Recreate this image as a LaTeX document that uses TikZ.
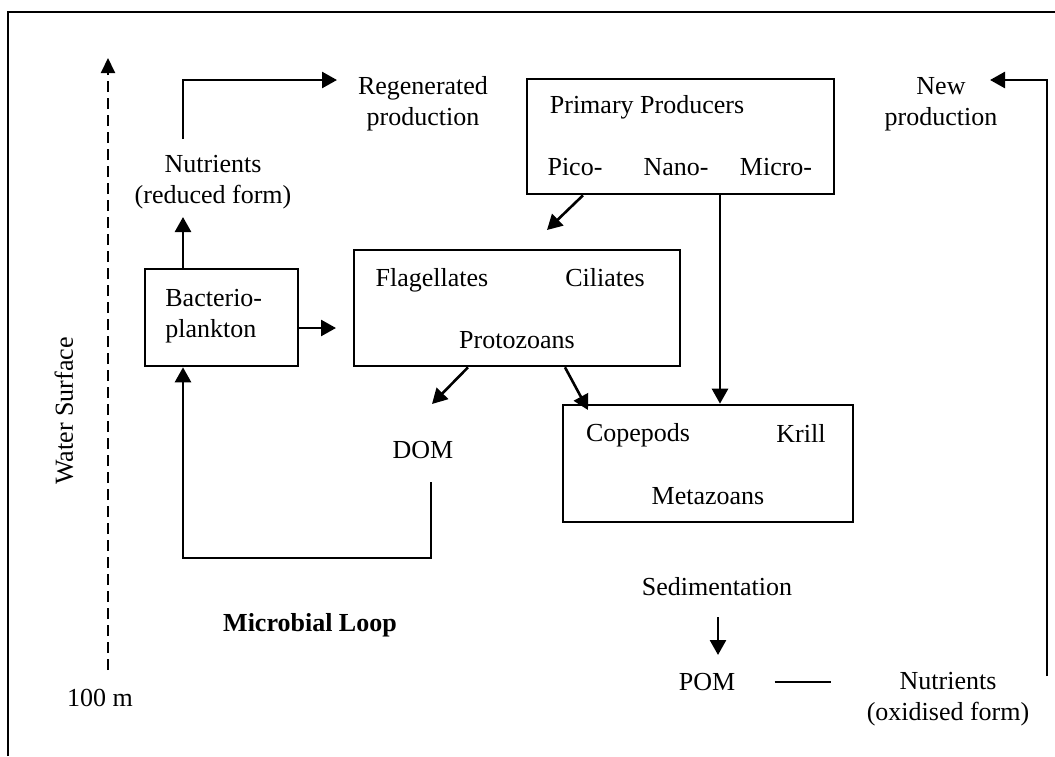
\documentclass[tikz,border=0pt]{standalone}
\usepackage{fontspec}
\setmainfont{Liberation Serif}
\usepackage{tikz}
\usetikzlibrary{arrows.meta}
\tikzstyle{box}=[draw,rectangle,line width=1.3pt,inner sep=0pt]
\tikzstyle{txt}=[inner sep=0pt,align=center]
\tikzstyle{lin}=[line width=1.3pt]
\tikzstyle{arr}=[lin,-{Triangle[length=7.5pt,width=8pt]}]
\tikzstyle{dline}=[line width=1pt,dash pattern=on 5.5pt off 3pt,-{Triangle[length=7.5pt,width=7pt]}]

\begin{document}
\begin{tikzpicture}[x=0.5pt,y=-0.5pt,font=\fontsize{13}{15.5}\selectfont]
\useasboundingbox (0,0) rectangle (1055,756);
\draw[lin] (8,756) |- (1055,12);
% the four boxes
\foreach \place/\name/\w/\h in {{(221.5,317.5)/bact/76.5pt/48.5pt}, {(517,308)/proto/163pt/58pt},
  {(680.5,136.5)/prim/153.5pt/57.5pt}, {(708,463.5)/meta/145pt/58.5pt}}
    \node[box,minimum width=\w,minimum height=\h] (\name) at \place {};
% labels
\foreach \place/\name/\lbl in {{(423,104)/regen/Regenerated\\production}, {(213,182)/nutr/Nutrients\\(reduced form)},
  {(941,104)/newp/New\\production}, {(647,107)/pp/Primary Producers},
  {(575,167)/pico/Pico-}, {(676,167)/nano/Nano-}, {(776,167)/micro/Micro-},
  {(432,280)/flag/Flagellates}, {(605,278)/cil/Ciliates}, {(517,340)/protz/Protozoans},
  {(423,450)/dom/DOM}, {(638,435)/cope/Copepods}, {(801,433)/krill/Krill}, {(708,496)/metaz/Metazoans},
  {(717,587)/sed/Sedimentation}, {(707,682)/pom/POM}, {(948,699)/nutox/Nutrients\\(oxidised form)},
  {(100,698)/hm/100 m}, {(310,625)/loop/\textbf{Microbial Loop}}}
    \node[txt] (\name) at \place {\lbl};
\node[txt,align=left,anchor=west] (bacl) at (165,316) {Bacterio-\\plankton};
\node[txt,rotate=90] (ws) at (64,411) {Water Surface};
% connector ends
\coordinate (n1) at (183,139);
\coordinate (n2) at (183,217);
\coordinate (r1) at (337,80);
\coordinate (b2) at (336,328);
\coordinate (p1) at (583,194);
\coordinate (p2) at (547,230);
\coordinate (m1) at (720,300);
\coordinate (q1) at (468,366);
\coordinate (q2) at (432,404);
\coordinate (q3) at (565,366);
\coordinate (q4) at (588,410);
\coordinate (d1) at (431,482);
\coordinate (l1) at (183,558);
\coordinate (s1) at (718,617);
\coordinate (s2) at (718,655);
\coordinate (w1) at (1047,676);
\coordinate (w2) at (990,80);
\coordinate (v1) at (108,670);
\coordinate (v2) at (108,58);
\draw[arr] (n1) |- (r1);
\draw[arr] (w1) |- (w2);
\draw[arr] (d1) |- (l1) -- (bact.south -| l1);
\foreach \source/\dest in {bact.north -| n2/n2, bact.east |- b2/b2, prim.south -| p1/p2,
  prim.south -| m1/meta.north -| m1, proto.south -| q1/q2, proto.south -| q3/q4, s1/s2}
    \draw[arr] (\source) -- (\dest);
\draw[lin] ([xshift=19.5pt]pom.east) -- ([xshift=-17.5pt]pom.east -| nutox.west);
\draw[dline] (v1) -- (v2);
\end{tikzpicture}
\end{document}
